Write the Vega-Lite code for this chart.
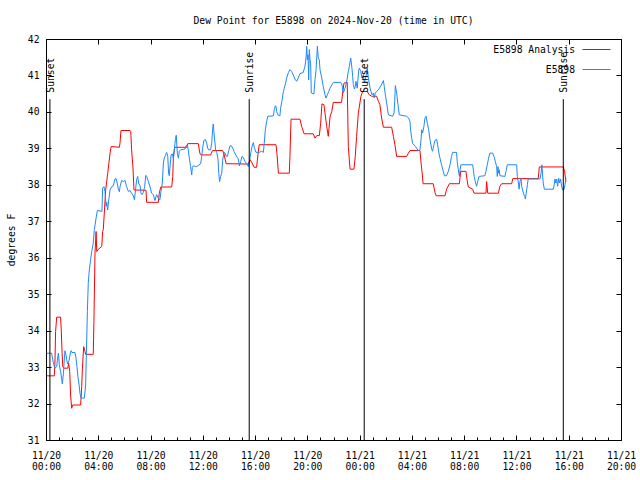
{
"$schema":"https://vega.github.io/schema/vega-lite/v6.json",
"width":575,"height":401,
"autosize":{"type":"none"},
"padding":{"left":46,"top":39,"right":19,"bottom":40},
"background":"white",
"config":{"view":{"stroke":null}},
"title":{"text":"Dew Point for E5898 on 2024-Nov-20 (time in UTC)","font":"DejaVu Sans Mono","fontSize":9.7,"fontWeight":"normal","color":"black","frame":"group","anchor":"middle","baseline":"alphabetic","offset":0},
"datasets":{
"sun":[
{"t":"2024-11-20T00:18Z","label":"Sunset"},
{"t":"2024-11-20T15:33Z","label":"Sunrise"},
{"t":"2024-11-21T00:21Z","label":"Sunset"},
{"t":"2024-11-21T15:35Z","label":"Sunrise"}
],
"an":[
{"t":"2024-11-20T00:03Z","v":32.76},{"t":"2024-11-20T00:38Z","v":32.76},{"t":"2024-11-20T00:41Z","v":33.11},{"t":"2024-11-20T00:44Z","v":33.97},
{"t":"2024-11-20T00:49Z","v":34.37},{"t":"2024-11-20T01:07Z","v":34.37},{"t":"2024-11-20T01:10Z","v":34.02},{"t":"2024-11-20T01:14Z","v":33.38},
{"t":"2024-11-20T01:17Z","v":33.01},{"t":"2024-11-20T01:23Z","v":32.97},{"t":"2024-11-20T01:40Z","v":32.97},{"t":"2024-11-20T01:44Z","v":33.11},
{"t":"2024-11-20T01:49Z","v":32.88},{"t":"2024-11-20T01:53Z","v":32.21},{"t":"2024-11-20T01:58Z","v":31.87},{"t":"2024-11-20T02:02Z","v":31.96},
{"t":"2024-11-20T02:39Z","v":31.96},{"t":"2024-11-20T02:44Z","v":32.47},{"t":"2024-11-20T02:47Z","v":32.94},{"t":"2024-11-20T02:53Z","v":33.56},
{"t":"2024-11-20T02:58Z","v":33.45},{"t":"2024-11-20T03:02Z","v":33.35},{"t":"2024-11-20T03:37Z","v":33.35},{"t":"2024-11-20T03:40Z","v":34.25},
{"t":"2024-11-20T03:45Z","v":36.13},{"t":"2024-11-20T03:50Z","v":36.72},{"t":"2024-11-20T03:53Z","v":36.17},{"t":"2024-11-20T04:00Z","v":36.23},
{"t":"2024-11-20T04:16Z","v":36.31},{"t":"2024-11-20T04:20Z","v":36.72},{"t":"2024-11-20T04:23Z","v":36.77},{"t":"2024-11-20T04:34Z","v":37.86},
{"t":"2024-11-20T04:43Z","v":38.30},{"t":"2024-11-20T04:49Z","v":38.60},{"t":"2024-11-20T04:54Z","v":38.87},{"t":"2024-11-20T04:59Z","v":39.05},
{"t":"2024-11-20T05:37Z","v":39.03},{"t":"2024-11-20T05:40Z","v":39.15},{"t":"2024-11-20T05:44Z","v":39.49},{"t":"2024-11-20T06:26Z","v":39.49},
{"t":"2024-11-20T06:29Z","v":39.47},{"t":"2024-11-20T06:33Z","v":38.96},{"t":"2024-11-20T06:39Z","v":38.50},{"t":"2024-11-20T06:44Z","v":37.86},
{"t":"2024-11-20T07:39Z","v":37.85},{"t":"2024-11-20T07:42Z","v":37.52},{"t":"2024-11-20T08:36Z","v":37.52},{"t":"2024-11-20T08:40Z","v":37.77},
{"t":"2024-11-20T08:47Z","v":37.94},{"t":"2024-11-20T09:37Z","v":37.94},{"t":"2024-11-20T09:42Z","v":38.23},{"t":"2024-11-20T09:45Z","v":38.78},
{"t":"2024-11-20T09:51Z","v":39.03},{"t":"2024-11-20T10:46Z","v":39.03},{"t":"2024-11-20T10:51Z","v":39.13},{"t":"2024-11-20T11:39Z","v":39.13},
{"t":"2024-11-20T11:47Z","v":38.85},{"t":"2024-11-20T11:55Z","v":38.82},{"t":"2024-11-20T12:36Z","v":38.82},{"t":"2024-11-20T12:44Z","v":38.94},
{"t":"2024-11-20T13:31Z","v":38.94},{"t":"2024-11-20T13:37Z","v":38.85},{"t":"2024-11-20T13:47Z","v":38.58},{"t":"2024-11-20T15:29Z","v":38.57},
{"t":"2024-11-20T15:37Z","v":38.69},{"t":"2024-11-20T15:46Z","v":38.60},{"t":"2024-11-20T15:56Z","v":38.48},{"t":"2024-11-20T16:07Z","v":38.48},
{"t":"2024-11-20T16:13Z","v":38.82},{"t":"2024-11-20T16:19Z","v":39.10},{"t":"2024-11-20T17:36Z","v":39.10},{"t":"2024-11-20T17:41Z","v":38.82},
{"t":"2024-11-20T17:47Z","v":38.32},{"t":"2024-11-20T18:37Z","v":38.32},{"t":"2024-11-20T18:40Z","v":38.78},{"t":"2024-11-20T18:45Z","v":39.80},
{"t":"2024-11-20T19:26Z","v":39.80},{"t":"2024-11-20T19:34Z","v":39.60},{"t":"2024-11-20T19:45Z","v":39.40},{"t":"2024-11-20T20:27Z","v":39.40},
{"t":"2024-11-20T20:35Z","v":39.28},{"t":"2024-11-20T20:43Z","v":39.35},{"t":"2024-11-20T20:55Z","v":39.35},{"t":"2024-11-20T21:01Z","v":39.69},
{"t":"2024-11-20T21:07Z","v":40.22},{"t":"2024-11-20T21:16Z","v":40.20},{"t":"2024-11-20T21:22Z","v":39.92},{"t":"2024-11-20T21:29Z","v":39.60},
{"t":"2024-11-20T21:36Z","v":39.33},{"t":"2024-11-20T21:44Z","v":39.86},{"t":"2024-11-20T21:52Z","v":40.01},{"t":"2024-11-20T21:59Z","v":40.26},
{"t":"2024-11-20T22:37Z","v":40.26},{"t":"2024-11-20T22:42Z","v":40.52},{"t":"2024-11-20T22:48Z","v":40.79},{"t":"2024-11-20T23:03Z","v":40.81},
{"t":"2024-11-20T23:08Z","v":39.05},{"t":"2024-11-20T23:16Z","v":38.43},{"t":"2024-11-20T23:34Z","v":38.43},{"t":"2024-11-20T23:40Z","v":38.78},
{"t":"2024-11-20T23:46Z","v":39.33},{"t":"2024-11-20T23:54Z","v":39.97},{"t":"2024-11-21T00:06Z","v":40.43},{"t":"2024-11-21T00:14Z","v":40.56},
{"t":"2024-11-21T00:35Z","v":40.56},{"t":"2024-11-21T00:44Z","v":40.47},{"t":"2024-11-21T00:55Z","v":40.43},{"t":"2024-11-21T01:18Z","v":40.43},
{"t":"2024-11-21T01:26Z","v":40.29},{"t":"2024-11-21T01:33Z","v":40.20},{"t":"2024-11-21T01:41Z","v":39.83},{"t":"2024-11-21T01:49Z","v":39.58},
{"t":"2024-11-21T02:27Z","v":39.58},{"t":"2024-11-21T02:35Z","v":39.33},{"t":"2024-11-21T02:42Z","v":39.10},{"t":"2024-11-21T02:50Z","v":38.78},
{"t":"2024-11-21T03:36Z","v":38.78},{"t":"2024-11-21T03:44Z","v":38.87},{"t":"2024-11-21T03:51Z","v":38.94},{"t":"2024-11-21T04:37Z","v":38.94},
{"t":"2024-11-21T04:42Z","v":38.60},{"t":"2024-11-21T04:48Z","v":38.27},{"t":"2024-11-21T04:51Z","v":38.03},{"t":"2024-11-21T05:38Z","v":38.03},
{"t":"2024-11-21T05:46Z","v":37.79},{"t":"2024-11-21T05:51Z","v":37.70},{"t":"2024-11-21T06:32Z","v":37.70},{"t":"2024-11-21T06:39Z","v":37.88},
{"t":"2024-11-21T06:52Z","v":38.03},{"t":"2024-11-21T07:38Z","v":38.03},{"t":"2024-11-21T07:44Z","v":38.37},{"t":"2024-11-21T08:08Z","v":38.37},
{"t":"2024-11-21T08:13Z","v":38.14},{"t":"2024-11-21T08:19Z","v":37.94},{"t":"2024-11-21T08:39Z","v":37.88},{"t":"2024-11-21T08:45Z","v":37.77},
{"t":"2024-11-21T09:40Z","v":37.77},{"t":"2024-11-21T09:43Z","v":38.09},{"t":"2024-11-21T09:48Z","v":37.77},{"t":"2024-11-21T10:37Z","v":37.77},
{"t":"2024-11-21T10:44Z","v":37.96},{"t":"2024-11-21T10:52Z","v":38.03},{"t":"2024-11-21T11:38Z","v":38.03},{"t":"2024-11-21T11:43Z","v":38.17},
{"t":"2024-11-21T13:40Z","v":38.17},{"t":"2024-11-21T13:45Z","v":38.49},{"t":"2024-11-21T15:35Z","v":38.49},{"t":"2024-11-21T15:41Z","v":38.37},
{"t":"2024-11-21T15:47Z","v":38.09}
],
"ob":[
{"t":"2024-11-20T00:03Z","v":33.38},{"t":"2024-11-20T00:26Z","v":33.38},{"t":"2024-11-20T00:31Z","v":33.20},{"t":"2024-11-20T00:37Z","v":33.04},
{"t":"2024-11-20T00:41Z","v":32.97},{"t":"2024-11-20T00:49Z","v":33.01},{"t":"2024-11-20T00:54Z","v":33.29},{"t":"2024-11-20T00:57Z","v":33.38},
{"t":"2024-11-20T01:01Z","v":33.06},{"t":"2024-11-20T01:07Z","v":32.88},{"t":"2024-11-20T01:12Z","v":32.67},{"t":"2024-11-20T01:15Z","v":32.54},
{"t":"2024-11-20T01:20Z","v":32.83},{"t":"2024-11-20T01:23Z","v":33.11},{"t":"2024-11-20T01:27Z","v":33.45},{"t":"2024-11-20T01:32Z","v":33.33},
{"t":"2024-11-20T01:35Z","v":33.20},{"t":"2024-11-20T01:39Z","v":33.09},{"t":"2024-11-20T01:46Z","v":33.18},{"t":"2024-11-20T01:50Z","v":33.33},
{"t":"2024-11-20T01:55Z","v":33.45},{"t":"2024-11-20T01:59Z","v":33.40},{"t":"2024-11-20T02:13Z","v":33.40},{"t":"2024-11-20T02:18Z","v":33.24},
{"t":"2024-11-20T02:22Z","v":33.01},{"t":"2024-11-20T02:27Z","v":32.72},{"t":"2024-11-20T02:32Z","v":32.51},{"t":"2024-11-20T02:36Z","v":32.28},
{"t":"2024-11-20T02:41Z","v":32.15},{"t":"2024-11-20T02:56Z","v":32.15},{"t":"2024-11-20T03:02Z","v":32.51},{"t":"2024-11-20T03:05Z","v":33.27},
{"t":"2024-11-20T03:10Z","v":34.52},{"t":"2024-11-20T03:14Z","v":35.30},{"t":"2024-11-20T03:19Z","v":35.67},{"t":"2024-11-20T03:25Z","v":35.96},
{"t":"2024-11-20T03:30Z","v":36.17},{"t":"2024-11-20T03:37Z","v":36.40},{"t":"2024-11-20T03:42Z","v":36.77},{"t":"2024-11-20T03:50Z","v":37.09},
{"t":"2024-11-20T03:56Z","v":37.30},{"t":"2024-11-20T04:17Z","v":37.27},{"t":"2024-11-20T04:20Z","v":37.91},{"t":"2024-11-20T04:26Z","v":37.95},
{"t":"2024-11-20T04:31Z","v":37.82},{"t":"2024-11-20T04:36Z","v":37.41},{"t":"2024-11-20T04:39Z","v":37.52},{"t":"2024-11-20T04:43Z","v":37.31},
{"t":"2024-11-20T04:49Z","v":37.63},{"t":"2024-11-20T04:54Z","v":37.86},{"t":"2024-11-20T05:02Z","v":37.95},{"t":"2024-11-20T05:09Z","v":37.97},
{"t":"2024-11-20T05:17Z","v":38.16},{"t":"2024-11-20T05:21Z","v":38.18},{"t":"2024-11-20T05:27Z","v":38.05},{"t":"2024-11-20T05:32Z","v":37.88},
{"t":"2024-11-20T05:37Z","v":37.81},{"t":"2024-11-20T05:40Z","v":37.95},{"t":"2024-11-20T05:47Z","v":38.12},{"t":"2024-11-20T05:55Z","v":38.09},
{"t":"2024-11-20T06:03Z","v":38.12},{"t":"2024-11-20T06:10Z","v":37.95},{"t":"2024-11-20T06:18Z","v":37.82},{"t":"2024-11-20T06:26Z","v":37.84},
{"t":"2024-11-20T06:33Z","v":37.77},{"t":"2024-11-20T06:41Z","v":37.70},{"t":"2024-11-20T06:46Z","v":37.59},{"t":"2024-11-20T06:52Z","v":37.91},
{"t":"2024-11-20T06:56Z","v":38.14},{"t":"2024-11-20T07:01Z","v":38.23},{"t":"2024-11-20T07:05Z","v":38.05},{"t":"2024-11-20T07:12Z","v":37.97},
{"t":"2024-11-20T07:16Z","v":37.77},{"t":"2024-11-20T07:21Z","v":37.73},{"t":"2024-11-20T07:27Z","v":37.79},{"t":"2024-11-20T07:33Z","v":37.95},
{"t":"2024-11-20T07:38Z","v":38.26},{"t":"2024-11-20T07:42Z","v":38.23},{"t":"2024-11-20T07:50Z","v":38.09},{"t":"2024-11-20T07:58Z","v":37.94},
{"t":"2024-11-20T08:05Z","v":37.77},{"t":"2024-11-20T08:13Z","v":37.73},{"t":"2024-11-20T08:20Z","v":37.57},{"t":"2024-11-20T08:28Z","v":37.73},
{"t":"2024-11-20T08:36Z","v":37.63},{"t":"2024-11-20T08:43Z","v":37.59},{"t":"2024-11-20T08:48Z","v":37.82},{"t":"2024-11-20T08:54Z","v":38.05},
{"t":"2024-11-20T08:59Z","v":38.60},{"t":"2024-11-20T09:03Z","v":38.73},{"t":"2024-11-20T09:08Z","v":38.80},{"t":"2024-11-20T09:14Z","v":38.89},
{"t":"2024-11-20T09:19Z","v":38.78},{"t":"2024-11-20T09:23Z","v":38.32},{"t":"2024-11-20T09:26Z","v":38.25},{"t":"2024-11-20T09:31Z","v":38.60},
{"t":"2024-11-20T09:34Z","v":38.82},{"t":"2024-11-20T09:40Z","v":38.85},{"t":"2024-11-20T09:45Z","v":38.71},{"t":"2024-11-20T09:49Z","v":38.96},
{"t":"2024-11-20T09:54Z","v":39.24},{"t":"2024-11-20T09:58Z","v":39.36},{"t":"2024-11-20T10:03Z","v":38.87},{"t":"2024-11-20T10:08Z","v":38.73},
{"t":"2024-11-20T10:12Z","v":38.92},{"t":"2024-11-20T10:18Z","v":38.96},{"t":"2024-11-20T10:38Z","v":38.98},{"t":"2024-11-20T10:43Z","v":39.07},
{"t":"2024-11-20T10:49Z","v":39.10},{"t":"2024-11-20T10:53Z","v":38.96},{"t":"2024-11-20T10:58Z","v":38.73},{"t":"2024-11-20T11:04Z","v":38.50},
{"t":"2024-11-20T11:09Z","v":38.27},{"t":"2024-11-20T11:12Z","v":38.48},{"t":"2024-11-20T11:16Z","v":38.52},{"t":"2024-11-20T11:32Z","v":38.50},
{"t":"2024-11-20T11:50Z","v":38.58},{"t":"2024-11-20T11:55Z","v":38.78},{"t":"2024-11-20T11:59Z","v":39.01},{"t":"2024-11-20T12:05Z","v":39.22},
{"t":"2024-11-20T12:12Z","v":39.24},{"t":"2024-11-20T12:18Z","v":39.14},{"t":"2024-11-20T12:22Z","v":39.01},{"t":"2024-11-20T12:27Z","v":38.96},
{"t":"2024-11-20T12:36Z","v":38.96},{"t":"2024-11-20T12:41Z","v":39.16},{"t":"2024-11-20T12:45Z","v":39.51},{"t":"2024-11-20T12:48Z","v":39.67},
{"t":"2024-11-20T12:53Z","v":39.31},{"t":"2024-11-20T12:59Z","v":38.96},{"t":"2024-11-20T13:04Z","v":38.89},{"t":"2024-11-20T13:10Z","v":38.69},
{"t":"2024-11-20T13:13Z","v":38.34},{"t":"2024-11-20T13:17Z","v":38.09},{"t":"2024-11-20T13:22Z","v":38.23},{"t":"2024-11-20T13:27Z","v":38.32},
{"t":"2024-11-20T13:31Z","v":38.67},{"t":"2024-11-20T13:37Z","v":38.89},{"t":"2024-11-20T13:42Z","v":38.87},{"t":"2024-11-20T13:46Z","v":38.80},
{"t":"2024-11-20T13:53Z","v":38.78},{"t":"2024-11-20T13:59Z","v":38.94},{"t":"2024-11-20T14:05Z","v":39.07},{"t":"2024-11-20T14:11Z","v":39.07},
{"t":"2024-11-20T14:17Z","v":39.01},{"t":"2024-11-20T14:23Z","v":38.92},{"t":"2024-11-20T14:29Z","v":38.85},{"t":"2024-11-20T14:35Z","v":38.78},
{"t":"2024-11-20T14:43Z","v":38.71},{"t":"2024-11-20T14:48Z","v":38.52},{"t":"2024-11-20T14:54Z","v":38.64},{"t":"2024-11-20T15:00Z","v":38.78},
{"t":"2024-11-20T15:06Z","v":38.75},{"t":"2024-11-20T15:14Z","v":38.64},{"t":"2024-11-20T15:21Z","v":38.58},{"t":"2024-11-20T15:29Z","v":38.50},
{"t":"2024-11-20T15:33Z","v":38.61},{"t":"2024-11-20T15:40Z","v":38.87},{"t":"2024-11-20T15:46Z","v":39.05},{"t":"2024-11-20T15:52Z","v":39.16},
{"t":"2024-11-20T15:56Z","v":39.03},{"t":"2024-11-20T16:04Z","v":38.89},{"t":"2024-11-20T16:19Z","v":38.89},{"t":"2024-11-20T16:30Z","v":38.92},
{"t":"2024-11-20T16:38Z","v":38.89},{"t":"2024-11-20T16:42Z","v":39.14},{"t":"2024-11-20T16:47Z","v":39.51},{"t":"2024-11-20T16:53Z","v":39.74},
{"t":"2024-11-20T16:58Z","v":39.88},{"t":"2024-11-20T17:24Z","v":39.89},{"t":"2024-11-20T17:28Z","v":40.06},{"t":"2024-11-20T17:33Z","v":40.17},
{"t":"2024-11-20T17:36Z","v":40.15},{"t":"2024-11-20T17:39Z","v":40.01},{"t":"2024-11-20T17:44Z","v":39.92},{"t":"2024-11-20T17:54Z","v":39.89},
{"t":"2024-11-20T17:57Z","v":40.10},{"t":"2024-11-20T18:03Z","v":40.29},{"t":"2024-11-20T18:10Z","v":40.56},{"t":"2024-11-20T18:14Z","v":40.65},
{"t":"2024-11-20T18:20Z","v":40.79},{"t":"2024-11-20T18:25Z","v":40.93},{"t":"2024-11-20T18:33Z","v":41.08},{"t":"2024-11-20T18:40Z","v":41.16},
{"t":"2024-11-20T18:48Z","v":41.11},{"t":"2024-11-20T18:55Z","v":41.02},{"t":"2024-11-20T19:03Z","v":40.90},{"t":"2024-11-20T19:11Z","v":40.84},
{"t":"2024-11-20T19:18Z","v":40.93},{"t":"2024-11-20T19:26Z","v":41.05},{"t":"2024-11-20T19:41Z","v":41.08},{"t":"2024-11-20T19:49Z","v":41.25},
{"t":"2024-11-20T19:54Z","v":41.48},{"t":"2024-11-20T19:57Z","v":41.80},{"t":"2024-11-20T20:00Z","v":41.43},{"t":"2024-11-20T20:03Z","v":41.57},
{"t":"2024-11-20T20:06Z","v":40.88},{"t":"2024-11-20T20:09Z","v":41.71},{"t":"2024-11-20T20:12Z","v":41.43},{"t":"2024-11-20T20:15Z","v":41.34},
{"t":"2024-11-20T20:18Z","v":40.52},{"t":"2024-11-20T20:30Z","v":40.49},{"t":"2024-11-20T20:35Z","v":40.88},{"t":"2024-11-20T20:40Z","v":41.16},
{"t":"2024-11-20T20:46Z","v":41.80},{"t":"2024-11-20T20:50Z","v":41.48},{"t":"2024-11-20T20:55Z","v":41.43},{"t":"2024-11-20T20:58Z","v":41.16},
{"t":"2024-11-20T21:06Z","v":40.93},{"t":"2024-11-20T21:13Z","v":40.70},{"t":"2024-11-20T21:21Z","v":40.47},{"t":"2024-11-20T21:25Z","v":40.38},
{"t":"2024-11-20T21:32Z","v":40.47},{"t":"2024-11-20T21:38Z","v":40.56},{"t":"2024-11-20T21:44Z","v":40.65},{"t":"2024-11-20T21:52Z","v":40.74},
{"t":"2024-11-20T21:59Z","v":40.81},{"t":"2024-11-20T22:33Z","v":40.81},{"t":"2024-11-20T22:39Z","v":40.74},{"t":"2024-11-20T22:45Z","v":40.52},
{"t":"2024-11-20T22:53Z","v":40.65},{"t":"2024-11-20T23:00Z","v":40.81},{"t":"2024-11-20T23:08Z","v":41.11},{"t":"2024-11-20T23:13Z","v":41.25},
{"t":"2024-11-20T23:19Z","v":41.48},{"t":"2024-11-20T23:22Z","v":41.34},{"t":"2024-11-20T23:25Z","v":41.18},{"t":"2024-11-20T23:28Z","v":40.97},
{"t":"2024-11-20T23:31Z","v":40.75},{"t":"2024-11-20T23:36Z","v":40.63},{"t":"2024-11-20T23:40Z","v":40.70},{"t":"2024-11-20T23:43Z","v":40.84},
{"t":"2024-11-20T23:49Z","v":40.65},{"t":"2024-11-20T23:56Z","v":41.16},{"t":"2024-11-20T23:59Z","v":41.20},{"t":"2024-11-21T00:05Z","v":41.11},
{"t":"2024-11-21T00:11Z","v":40.93},{"t":"2024-11-21T00:17Z","v":41.02},{"t":"2024-11-21T00:22Z","v":40.79},{"t":"2024-11-21T00:29Z","v":40.97},
{"t":"2024-11-21T00:35Z","v":41.20},{"t":"2024-11-21T00:40Z","v":40.93},{"t":"2024-11-21T00:44Z","v":40.79},{"t":"2024-11-21T00:48Z","v":40.65},
{"t":"2024-11-21T00:52Z","v":40.56},{"t":"2024-11-21T00:57Z","v":40.47},{"t":"2024-11-21T01:03Z","v":40.52},{"t":"2024-11-21T01:07Z","v":40.38},
{"t":"2024-11-21T01:12Z","v":40.52},{"t":"2024-11-21T01:26Z","v":40.61},{"t":"2024-11-21T01:38Z","v":40.72},{"t":"2024-11-21T01:49Z","v":40.86},
{"t":"2024-11-21T01:53Z","v":40.70},{"t":"2024-11-21T01:58Z","v":40.47},{"t":"2024-11-21T02:04Z","v":40.24},{"t":"2024-11-21T02:12Z","v":39.92},
{"t":"2024-11-21T02:32Z","v":39.88},{"t":"2024-11-21T02:38Z","v":39.97},{"t":"2024-11-21T02:41Z","v":40.29},{"t":"2024-11-21T02:44Z","v":40.72},
{"t":"2024-11-21T02:50Z","v":40.52},{"t":"2024-11-21T02:56Z","v":40.20},{"t":"2024-11-21T03:02Z","v":39.92},{"t":"2024-11-21T03:36Z","v":39.88},
{"t":"2024-11-21T03:45Z","v":39.83},{"t":"2024-11-21T03:51Z","v":39.74},{"t":"2024-11-21T03:54Z","v":39.51},{"t":"2024-11-21T03:59Z","v":39.28},
{"t":"2024-11-21T04:03Z","v":39.14},{"t":"2024-11-21T04:16Z","v":39.05},{"t":"2024-11-21T04:29Z","v":38.94},{"t":"2024-11-21T04:37Z","v":38.96},
{"t":"2024-11-21T04:42Z","v":39.24},{"t":"2024-11-21T04:45Z","v":39.51},{"t":"2024-11-21T04:49Z","v":39.42},{"t":"2024-11-21T04:55Z","v":39.60},
{"t":"2024-11-21T05:00Z","v":39.83},{"t":"2024-11-21T05:05Z","v":39.88},{"t":"2024-11-21T05:11Z","v":39.69},{"t":"2024-11-21T05:17Z","v":39.51},
{"t":"2024-11-21T05:23Z","v":39.24},{"t":"2024-11-21T05:31Z","v":38.98},{"t":"2024-11-21T05:35Z","v":38.92},{"t":"2024-11-21T05:41Z","v":39.10},
{"t":"2024-11-21T05:46Z","v":39.22},{"t":"2024-11-21T05:54Z","v":39.24},{"t":"2024-11-21T05:58Z","v":39.10},{"t":"2024-11-21T06:04Z","v":38.87},
{"t":"2024-11-21T06:09Z","v":38.73},{"t":"2024-11-21T06:16Z","v":38.55},{"t":"2024-11-21T06:24Z","v":38.37},{"t":"2024-11-21T06:29Z","v":38.25},
{"t":"2024-11-21T06:39Z","v":38.25},{"t":"2024-11-21T06:47Z","v":38.37},{"t":"2024-11-21T06:55Z","v":38.55},{"t":"2024-11-21T07:02Z","v":38.78},
{"t":"2024-11-21T07:07Z","v":38.89},{"t":"2024-11-21T07:25Z","v":38.89},{"t":"2024-11-21T07:28Z","v":38.64},{"t":"2024-11-21T07:33Z","v":38.41},
{"t":"2024-11-21T07:38Z","v":38.23},{"t":"2024-11-21T07:41Z","v":38.41},{"t":"2024-11-21T07:45Z","v":38.55},{"t":"2024-11-21T08:39Z","v":38.55},
{"t":"2024-11-21T08:42Z","v":38.41},{"t":"2024-11-21T08:46Z","v":38.23},{"t":"2024-11-21T08:51Z","v":38.09},{"t":"2024-11-21T08:57Z","v":37.96},
{"t":"2024-11-21T09:02Z","v":38.09},{"t":"2024-11-21T09:08Z","v":38.23},{"t":"2024-11-21T09:35Z","v":38.25},{"t":"2024-11-21T09:40Z","v":38.37},
{"t":"2024-11-21T09:46Z","v":38.55},{"t":"2024-11-21T09:52Z","v":38.73},{"t":"2024-11-21T09:58Z","v":38.87},{"t":"2024-11-21T10:11Z","v":38.87},
{"t":"2024-11-21T10:17Z","v":38.78},{"t":"2024-11-21T10:23Z","v":38.64},{"t":"2024-11-21T10:29Z","v":38.50},{"t":"2024-11-21T10:32Z","v":38.23},
{"t":"2024-11-21T10:35Z","v":38.50},{"t":"2024-11-21T10:38Z","v":38.32},{"t":"2024-11-21T10:41Z","v":38.41},{"t":"2024-11-21T10:44Z","v":38.25},
{"t":"2024-11-21T11:07Z","v":38.23},{"t":"2024-11-21T11:12Z","v":38.37},{"t":"2024-11-21T11:18Z","v":38.55},{"t":"2024-11-21T12:01Z","v":38.55},
{"t":"2024-11-21T12:04Z","v":38.23},{"t":"2024-11-21T12:09Z","v":38.05},{"t":"2024-11-21T12:12Z","v":37.88},{"t":"2024-11-21T12:16Z","v":38.09},
{"t":"2024-11-21T12:21Z","v":38.18},{"t":"2024-11-21T12:24Z","v":37.96},{"t":"2024-11-21T12:28Z","v":37.86},{"t":"2024-11-21T12:33Z","v":37.75},
{"t":"2024-11-21T12:38Z","v":37.68},{"t":"2024-11-21T12:41Z","v":37.61},{"t":"2024-11-21T12:47Z","v":37.86},{"t":"2024-11-21T12:50Z","v":38.00},
{"t":"2024-11-21T12:54Z","v":38.16},{"t":"2024-11-21T13:48Z","v":38.16},{"t":"2024-11-21T13:53Z","v":38.32},{"t":"2024-11-21T13:57Z","v":38.55},
{"t":"2024-11-21T14:00Z","v":38.27},{"t":"2024-11-21T14:03Z","v":38.05},{"t":"2024-11-21T14:08Z","v":37.88},{"t":"2024-11-21T14:49Z","v":37.88},
{"t":"2024-11-21T14:52Z","v":37.96},{"t":"2024-11-21T14:57Z","v":38.16},{"t":"2024-11-21T15:01Z","v":38.05},{"t":"2024-11-21T15:05Z","v":38.16},
{"t":"2024-11-21T15:09Z","v":37.96},{"t":"2024-11-21T15:14Z","v":38.18},{"t":"2024-11-21T15:18Z","v":38.05},{"t":"2024-11-21T15:23Z","v":38.16},
{"t":"2024-11-21T15:27Z","v":37.97},{"t":"2024-11-21T15:32Z","v":37.86},{"t":"2024-11-21T15:38Z","v":37.86},{"t":"2024-11-21T15:43Z","v":38.00},
{"t":"2024-11-21T15:47Z","v":38.18}
]
},
"resolve":{"axis":{"x":"independent","y":"independent"}},
"layer":[
{"data":{"name":"an"},
 "mark":{"type":"line","strokeWidth":1},
 "encoding":{
  "x":{"field":"t","type":"temporal",
   "scale":{"type":"utc","domain":[{"year":2024,"month":11,"date":20,"hours":0,"utc":true},{"year":2024,"month":11,"date":21,"hours":20,"utc":true}]},
   "axis":{"orient":"bottom","title":null,"grid":false,"domain":true,"domainColor":"black",
    "values":[{"year":2024,"month":11,"date":20,"hours":0,"utc":true},{"year":2024,"month":11,"date":20,"hours":4,"utc":true},{"year":2024,"month":11,"date":20,"hours":8,"utc":true},{"year":2024,"month":11,"date":20,"hours":12,"utc":true},{"year":2024,"month":11,"date":20,"hours":16,"utc":true},{"year":2024,"month":11,"date":20,"hours":20,"utc":true},{"year":2024,"month":11,"date":21,"hours":0,"utc":true},{"year":2024,"month":11,"date":21,"hours":4,"utc":true},{"year":2024,"month":11,"date":21,"hours":8,"utc":true},{"year":2024,"month":11,"date":21,"hours":12,"utc":true},{"year":2024,"month":11,"date":21,"hours":16,"utc":true},{"year":2024,"month":11,"date":21,"hours":20,"utc":true}],
    "tickColor":"black","tickSize":-5,
    "labelExpr":"(utcmonth(datum.value) + 1) + '/' + utcdate(datum.value)",
    "labelFont":"DejaVu Sans Mono","labelFontSize":9.7,"labelColor":"black","labelPadding":15,
    "labelFlush":false,"labelOverlap":false,"labelBound":false}},
  "y":{"field":"v","type":"quantitative",
   "scale":{"domain":[31,42],"zero":false},
   "axis":{"orient":"left","title":"degrees F","titleFont":"DejaVu Sans Mono","titleFontSize":9.7,"titleFontWeight":"normal","titleColor":"black","titlePadding":11,
    "grid":false,"domain":true,"domainColor":"black",
    "values":[31,32,33,34,35,36,37,38,39,40,41,42],"tickColor":"black","tickSize":-5,
    "labelFont":"DejaVu Sans Mono","labelFontSize":9.7,"labelColor":"black","labelPadding":12,"labelFlush":false,"labelOverlap":false}},
  "color":{"datum":"E5898 Analysis","type":"nominal",
   "scale":{"domain":["E5898 Analysis","E5898"],"range":["#ff0000","#1e88ff"]},
   "legend":{"title":null,"orient":"none","legendX":536,"legendY":-4,"padding":0,
    "symbolType":"stroke","symbolSize":784,"symbolStrokeWidth":1,
    "labelAlign":"right","labelOffset":-36,"labelFont":"DejaVu Sans Mono","labelFontSize":9.7,"labelColor":"black","rowPadding":-23}}
 }},
{"data":{"name":"ob"},
 "mark":{"type":"line","strokeWidth":1},
 "encoding":{
  "x":{"field":"t","type":"temporal",
   "axis":{"orient":"top","title":null,"grid":false,"domain":true,"domainColor":"black","labels":false,
    "values":[{"year":2024,"month":11,"date":20,"hours":0,"utc":true},{"year":2024,"month":11,"date":20,"hours":4,"utc":true},{"year":2024,"month":11,"date":20,"hours":8,"utc":true},{"year":2024,"month":11,"date":20,"hours":12,"utc":true},{"year":2024,"month":11,"date":20,"hours":16,"utc":true},{"year":2024,"month":11,"date":20,"hours":20,"utc":true},{"year":2024,"month":11,"date":21,"hours":0,"utc":true},{"year":2024,"month":11,"date":21,"hours":4,"utc":true},{"year":2024,"month":11,"date":21,"hours":8,"utc":true},{"year":2024,"month":11,"date":21,"hours":12,"utc":true},{"year":2024,"month":11,"date":21,"hours":16,"utc":true},{"year":2024,"month":11,"date":21,"hours":20,"utc":true}],
    "tickColor":"black","tickSize":-5}},
  "y":{"field":"v","type":"quantitative",
   "axis":{"orient":"right","title":null,"grid":false,"domain":true,"domainColor":"black","labels":false,
    "values":[31,32,33,34,35,36,37,38,39,40,41,42],"tickColor":"black","tickSize":-5}},
  "color":{"datum":"E5898","type":"nominal"}
 }},
{"data":{"name":"sun"},
 "mark":{"type":"rule","color":"black"},
 "encoding":{
  "x":{"field":"t","type":"temporal",
   "axis":{"orient":"bottom","title":null,"grid":false,"domain":false,"ticks":false,
    "values":[{"year":2024,"month":11,"date":20,"hours":0,"utc":true},{"year":2024,"month":11,"date":20,"hours":4,"utc":true},{"year":2024,"month":11,"date":20,"hours":8,"utc":true},{"year":2024,"month":11,"date":20,"hours":12,"utc":true},{"year":2024,"month":11,"date":20,"hours":16,"utc":true},{"year":2024,"month":11,"date":20,"hours":20,"utc":true},{"year":2024,"month":11,"date":21,"hours":0,"utc":true},{"year":2024,"month":11,"date":21,"hours":4,"utc":true},{"year":2024,"month":11,"date":21,"hours":8,"utc":true},{"year":2024,"month":11,"date":21,"hours":12,"utc":true},{"year":2024,"month":11,"date":21,"hours":16,"utc":true},{"year":2024,"month":11,"date":21,"hours":20,"utc":true}],
    "labelExpr":"(utchours(datum.value) < 10 ? '0' : '') + utchours(datum.value) + ':00'",
    "labelFont":"DejaVu Sans Mono","labelFontSize":9.7,"labelColor":"black","labelPadding":21,
    "labelFlush":false,"labelOverlap":false,"labelBound":false}},
  "y":{"datum":31,"axis":null},
  "y2":{"datum":40.35}
 }},
{"data":{"name":"sun"},
 "mark":{"type":"text","angle":270,"align":"left","baseline":"middle","dx":6.5,"dy":1,"font":"DejaVu Sans Mono","fontSize":9.7},
 "encoding":{
  "x":{"field":"t","type":"temporal",
   "axis":{"orient":"bottom","title":null,"grid":false,"domain":false,"labels":false,
    "tickCount":44,"tickColor":"black","tickSize":-3}},
  "y":{"datum":40.35,"axis":null},
  "text":{"field":"label"}
 }}
]
}
